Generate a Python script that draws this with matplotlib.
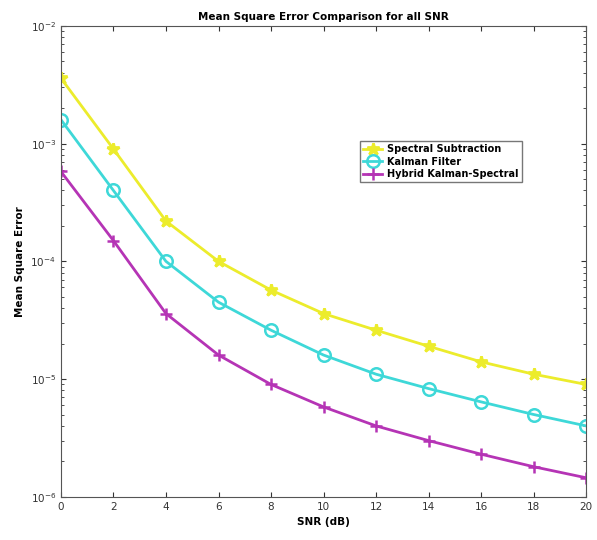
import matplotlib
matplotlib.use("Agg")
from matplotlib import pyplot as plt

snr = [0, 2, 4, 6, 8, 10, 12, 14, 16, 18, 20]
spectral = [3.6e-3, 9.0e-4, 2.2e-4, 1.0e-4, 5.7e-5, 3.6e-5, 2.6e-5, 1.9e-5, 1.4e-5, 1.1e-5, 9.0e-6]
kalman = [1.6e-3, 4.0e-4, 1.0e-4, 4.5e-5, 2.6e-5, 1.6e-5, 1.1e-5, 8.3e-6, 6.4e-6, 5.0e-6, 4.0e-6]
hybrid = [5.8e-4, 1.5e-4, 3.6e-5, 1.6e-5, 9.0e-6, 5.8e-6, 4.0e-6, 3.0e-6, 2.3e-6, 1.8e-6, 1.45e-6]
labels = ["Spectral Subtraction", "Kalman Filter", "Hybrid Kalman-Spectral"]


def main():
    fig = plt.figure(figsize=(5.97, 5.40), dpi=100)
    ax = fig.add_axes([0.102, 0.080, 0.880, 0.872])

    ax.semilogy(snr, spectral, "-*", color="#ecec2c", lw=2, ms=9, mew=2, label=labels[0])
    ax.semilogy(snr, kalman, "-o", color="#3ed8d8", lw=2, ms=9, mew=1.8,
                mfc="none", label=labels[1])
    ax.semilogy(snr, hybrid, "-+", color="#b534b5", lw=2, ms=9, mew=1.8, label=labels[2])

    ax.set_xlim(0, 20)
    ax.set_ylim(1e-6, 1e-2)
    ax.set_xticks(range(0, 21, 2))
    ax.tick_params(direction="in", which="both", top=True, right=True,
                   labelsize=7.5, colors="#333333")
    for s in ax.spines.values():
        s.set_color("#555555")

    ax.set_title("Mean Square Error Comparison for all SNR", fontsize=7.5,
                 fontweight="bold", pad=4)
    ax.set_xlabel("SNR (dB)", fontsize=7.5, fontweight="bold")
    ax.set_ylabel("Mean Square Error", fontsize=7.5, fontweight="bold")

    ax.legend(loc="upper left", bbox_to_anchor=(0.56, 0.765),
              fancybox=False, edgecolor="#555555", handlelength=2.0,
              borderpad=0.3, labelspacing=0.25, handletextpad=0.5,
              prop={"weight": "bold", "size": 7})

    fig.savefig("out.png", dpi=100)


if __name__ == "__main__":
    main()
